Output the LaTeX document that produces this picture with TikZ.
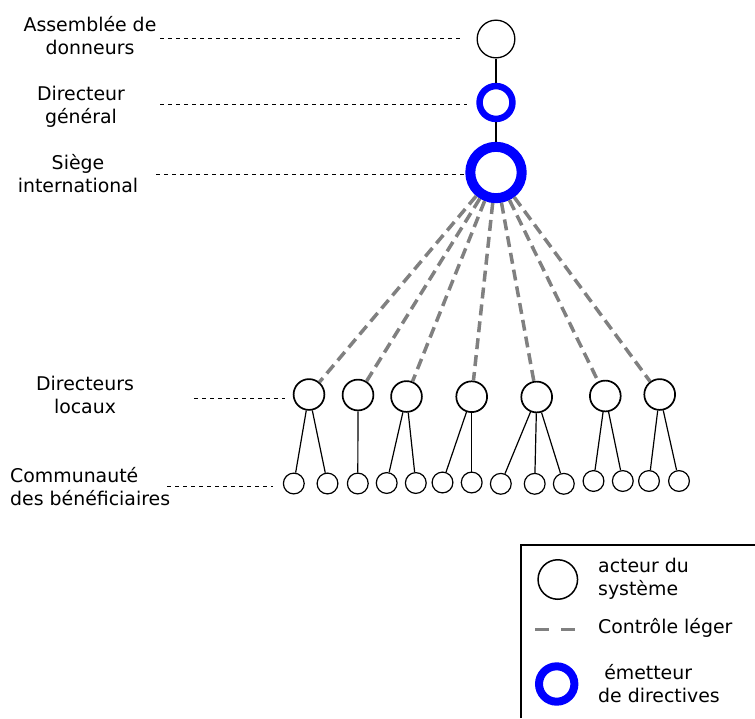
\documentclass[tikz,border=0pt]{standalone}
\usepackage{fontspec}
\setmainfont{DejaVu Sans}
\usepackage{tikz}
\newcommand{\txtsize}{\fontsize{18.9}{23}\selectfont}

\begin{document}
\begin{tikzpicture}[
	x = 1pt, y = -1pt,
	font = \txtsize,
	actor/.style = {draw,circle,line width=1.3pt,inner sep=0pt,minimum size=37.7pt},
	emitter/.style = {draw=blue,circle,inner sep=0pt},
	local/.style = {draw,circle,line width=1.7pt,inner sep=0pt,minimum size=30.8pt},
	member/.style = {draw,circle,line width=1.2pt,inner sep=0pt,minimum size=20.8pt},
	link/.style = {line width=1.2pt},
	control/.style = {draw=gray,line width=3.5pt,dash pattern=on 11pt off 6pt},
	guide/.style = {line width=1pt,dash pattern=on 4pt off 4pt},
	level text/.style = {inner sep=0pt,align=center},
	legend text/.style = {inner sep=0pt,align=left,anchor=west}
	]

	\useasboundingbox (0,0) rectangle (755,718);

	\node[actor] (@don) at (496,39) {};
	\node[emitter,line width=6.5pt,minimum size=32.9pt] (@dg) at (496,102.5) {};
	\node[emitter,line width=10pt,minimum size=51.4pt] (@siege) at (496,172.5) {};

	\draw[link] (@don) -- (@dg);
	\draw[link] (@dg) -- (@siege);

	\foreach \x/\y [count=\i] in {309/394.5,358/395,406.5/396.5,471.7/396.7,536.7/397,605.3/396,659.7/394.5}
		\node[local] (@L\i) at (\x,\y) {};

	\foreach \x/\y [count=\i] in {293.8/483.5,327.5/483.5,357.8/483.5,386.7/483,415.8/483,442.5/482.5,471.7/482.5,500.8/483.8,534.7/483.8,563.8/483.8,593.5/481,622.8/481,649/481,679/481}
		\node[member] (@m\i) at (\x,\y) {};

	\foreach \i in {1,...,7}
		\draw[control] (@siege) -- (@L\i);

	\foreach \a/\b in {1/1,1/2,2/3,3/4,3/5,4/6,4/7,5/8,5/9,5/10,6/11,6/12,7/13,7/14}
		\draw[link] (@L\a) -- (@m\b);

	\node[level text] (@tdon) at (90,35.6) {Assemblée de\\donneurs};
	\node[level text] (@tdg) at (81,106.3) {Directeur\\général};
	\node[level text] (@tsiege) at (78,174) {Siège\\international};
	\node[level text] (@tloc) at (85,394.5) {Directeurs\\locaux};
	\node[level text,align=left,anchor=west] (@tcom) at (10,487) {Communauté\\des bénéficiaires};

	\coordinate (@g1a) at (160,38);
	\coordinate (@g1b) at (462,38);
	\coordinate (@g2a) at (160,104);
	\coordinate (@g2b) at (467,104);
	\coordinate (@g3a) at (156,174);
	\coordinate (@g3b) at (464,174);
	\coordinate (@g4a) at (194,398.5);
	\coordinate (@g4b) at (285,398.5);
	\coordinate (@g5a) at (167,486);
	\coordinate (@g5b) at (273,486);
	\foreach \i in {1,...,5}
		\draw[guide] (@g\i a) -- (@g\i b);

	% legend
	\draw[line width=1.3pt] (521,718) |- (755,545);

	\node[actor,line width=1.5pt,minimum size=39.5pt] (@kactor) at (557.8,579.5) {};
	\node[legend text] (@tkactor) at (598,579) {acteur du\\système};

	\coordinate (@kc1) at (535,629.3);
	\coordinate (@kc2) at (577,629.3);
	\draw[control,dash pattern=on 14pt off 12pt] (@kc1) -- (@kc2);
	\node[legend text] (@tkcontrol) at (598,627.8) {Contrôle léger};

	\node[emitter,line width=8pt,minimum size=35.4pt] (@kemit) at (556.7,684) {};
	\node[legend text] (@tkemit) at (598,684) {\hspace*{0.32em}émetteur\\de directives};

\end{tikzpicture}
\end{document}
